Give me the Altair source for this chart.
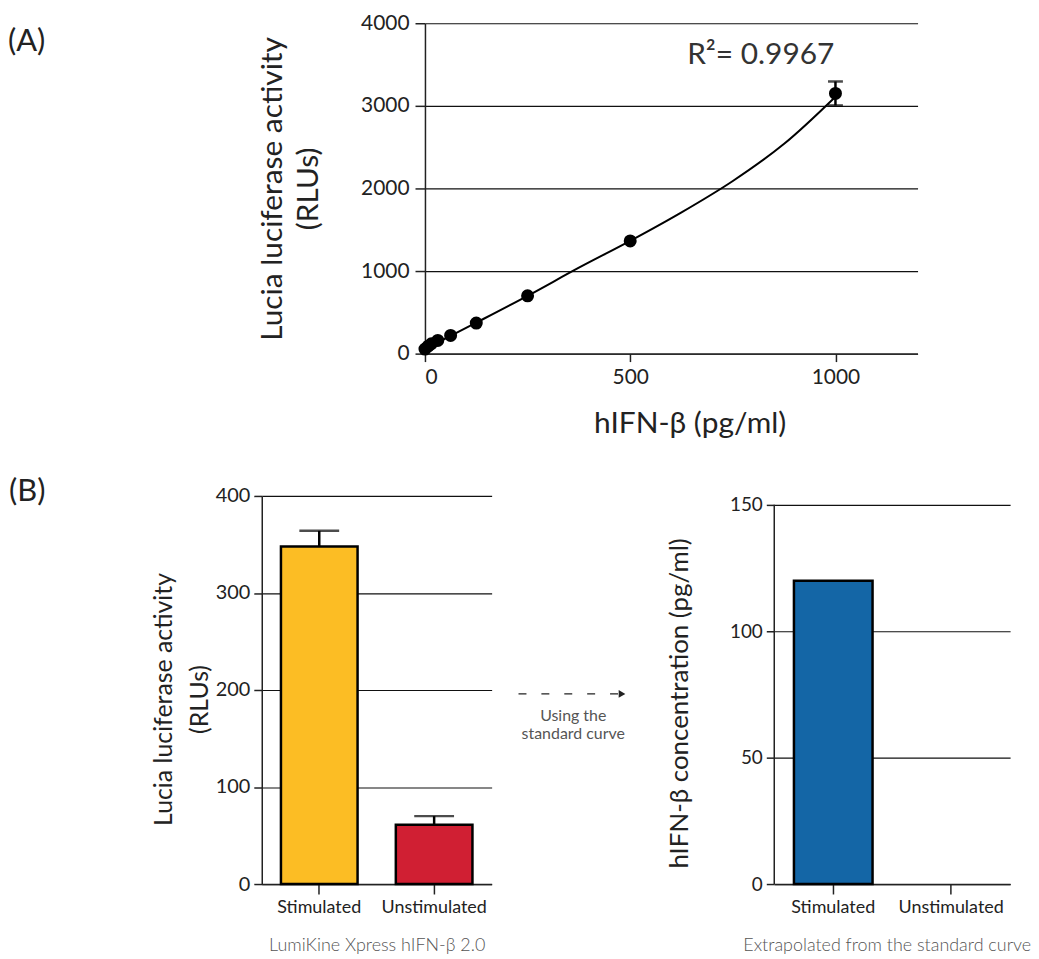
import altair as alt
import pandas as pd

# ---------------- data ----------------
# Panel A: standard curve (hIFN-beta pg/ml vs RLUs)
std_conc = [0, 7.8, 15.6, 31.25, 62.5, 125, 250, 500, 1000]
std_rlu = [55, 90, 120, 160, 220, 370, 700, 1365, 3150]
std_err = [0, 0, 0, 0, 0, 0, 0, 0, 145]

# fitted curve
fit_conc = [0, 125, 250, 375, 500, 625, 750, 875, 1000]
fit_rlu = [55, 375, 700, 1040, 1365, 1710, 2090, 2540, 3110]

r2_label = "R²= 0.9967"

# Panel B
conditions = ["Stimulated", "Unstimulated"]
rlu_means = [348, 61]
rlu_errs = [16, 9]
bar_colors = ["#FCBD24", "#D01F33"]
ifn_conc = [120, 0]
ifn_color = "#1466A6"

FONT = "Lato"
TXT = "#222222"

# ---------------- panel A ----------------
dfA = pd.DataFrame({
    "conc": std_conc,
    "rlu": std_rlu,
    "lo": [r - e for r, e in zip(std_rlu, std_err)],
    "hi": [r + e for r, e in zip(std_rlu, std_err)],
    "err": std_err,
})
dfFit = pd.DataFrame({"conc": fit_conc, "rlu": fit_rlu})
one = pd.DataFrame({"k": [0]})

xscA = alt.Scale(domain=[0, 1200], nice=False, zero=False)
yscA = alt.Scale(domain=[0, 4000], nice=False)
xaxA = alt.Axis(values=[0, 500, 1000], format="d", title="hIFN-β (pg/ml)", grid=False,
               labelFontSize=21, titleFontSize=30, titlePadding=21, labelPadding=5,
               tickSize=8, titleX=266)
yaxA = alt.Axis(values=[0, 1000, 2000, 3000, 4000], format="d",
               title=["Lucia luciferase activity", "(RLUs)"], grid=True,
               labelFontSize=21, titleFontSize=30, titlePadding=37, labelPadding=6,
               tickSize=10, titleLineHeight=36)

fit_line = alt.Chart(dfFit).mark_line(color="black", strokeWidth=2, interpolate="catmull-rom").encode(
    x=alt.X("conc:Q", scale=xscA, axis=xaxA),
    y=alt.Y("rlu:Q", scale=yscA, axis=yaxA),
)
pts = alt.Chart(dfA).mark_circle(size=170, color="black", opacity=1).encode(
    x=alt.X("conc:Q", scale=xscA, axis=xaxA),
    y=alt.Y("rlu:Q", scale=yscA, axis=yaxA),
)
errA = alt.Chart(dfA).transform_filter("datum.err > 0")
err_rule = errA.mark_rule(color="black", strokeWidth=2.5).encode(
    x=alt.X("conc:Q", scale=xscA, axis=xaxA),
    y=alt.Y("lo:Q", scale=yscA, axis=yaxA),
    y2="hi:Q",
)
cap_lo = errA.mark_tick(color="black", orient="horizontal", size=15, thickness=2.5).encode(
    x=alt.X("conc:Q", scale=xscA, axis=xaxA),
    y=alt.Y("lo:Q", scale=yscA, axis=yaxA),
)
cap_hi = errA.mark_tick(color="black", orient="horizontal", size=15, thickness=2.5).encode(
    x=alt.X("conc:Q", scale=xscA, axis=xaxA),
    y=alt.Y("hi:Q", scale=yscA, axis=yaxA),
)
r2 = alt.Chart(one).mark_text(font=FONT, fontSize=30, color="#333333", align="center",
                              baseline="middle").encode(
    x=alt.datum(818), y=alt.datum(3614), text=alt.value(r2_label)
)
labA = alt.Chart(one).mark_text(font=FONT, fontSize=31, color=TXT, align="left",
                                baseline="middle").encode(
    x=alt.value(-419), y=alt.value(19), text=alt.value("(A)")
)
panelA = alt.layer(fit_line, err_rule, cap_lo, cap_hi, pts, r2, labA).properties(width=495, height=332)

spacer = alt.Chart(one).mark_point(opacity=0).encode(
    x=alt.value(0), y=alt.value(0)
).properties(width=1, height=1)

# ---------------- panel B1 ----------------
dfB1 = pd.DataFrame({
    "cond": conditions,
    "rlu": rlu_means,
    "hi": [m + e for m, e in zip(rlu_means, rlu_errs)],
    "col": bar_colors,
})
xscB = alt.Scale(domain=conditions, paddingInner=0.333, paddingOuter=0.167)
xaxB1 = alt.Axis(title="LumiKine Xpress hIFN-β 2.0", labelAngle=0, labelFontSize=18,
                 titleFontSize=18, titleColor="#555555", titleFontWeight=300,
                 titlePadding=20, tickSize=10, grid=False, labelPadding=5)
yscB1 = alt.Scale(domain=[0, 400], nice=False)
yaxB1 = alt.Axis(values=[0, 100, 200, 300, 400], title=["Lucia luciferase activity", "(RLUs)"],
                 grid=True, labelFontSize=20, titleFontSize=25, titlePadding=3,
                 titleLineHeight=36, tickSize=8, labelPadding=4, titleY=204)

barsB1 = alt.Chart(dfB1).mark_bar(stroke="black", strokeWidth=2.5).encode(
    x=alt.X("cond:N", scale=xscB, axis=xaxB1, sort=conditions),
    y=alt.Y("rlu:Q", scale=yscB1, axis=yaxB1),
    color=alt.Color("col:N", scale=None),
)
errB1 = alt.Chart(dfB1).mark_rule(color="black", strokeWidth=2.5).encode(
    x=alt.X("cond:N", scale=xscB, axis=xaxB1, sort=conditions),
    y=alt.Y("rlu:Q", scale=yscB1, axis=yaxB1),
    y2="hi:Q",
)
capB1 = alt.Chart(dfB1).mark_tick(color="black", orient="horizontal", size=40, thickness=2.5).encode(
    x=alt.X("cond:N", scale=xscB, axis=xaxB1, sort=conditions),
    y=alt.Y("hi:Q", scale=yscB1, axis=yaxB1),
)
labB = alt.Chart(one).mark_text(font=FONT, fontSize=31, color=TXT, align="left",
                                baseline="middle").encode(
    x=alt.value(-254), y=alt.value(-4), text=alt.value("(B)")
)
panelB1 = alt.layer(barsB1, errB1, capB1, labB).properties(width=231, height=390)

# ---------------- panel B2 ----------------
dfB2 = pd.DataFrame({"cond": conditions, "conc": ifn_conc})
xaxB2 = alt.Axis(title="Extrapolated from the standard curve", labelAngle=0, labelFontSize=18,
                 titleFontSize=18, titleColor="#555555", titleFontWeight=300,
                 titlePadding=20, tickSize=10, grid=False, labelPadding=5, titleX=113)
yscB2 = alt.Scale(domain=[0, 153.5], nice=False)
yaxB2 = alt.Axis(values=[0, 50, 100, 150], title="hIFN-β concentration (pg/ml)", domain=False,
                 grid=True, labelFontSize=19, titleFontSize=26, titlePadding=37,
                 tickSize=8, labelPadding=4, titleY=208)

barsB2 = alt.Chart(dfB2).transform_filter("datum.conc > 0").mark_bar(
    stroke="black", strokeWidth=2.5, color=ifn_color
).encode(
    x=alt.X("cond:N", scale=xscB, axis=xaxB2, sort=conditions),
    y=alt.Y("conc:Q", scale=yscB2, axis=yaxB2),
)
yline = alt.Chart(one).mark_rule(color=TXT, strokeWidth=1.5).encode(
    x=alt.value(0), y=alt.datum(0), y2=alt.datum(150)
)
arrow_line = alt.Chart(one).mark_rule(color="#222222", strokeWidth=1.3, strokeDash=[8, 15]).encode(
    x=alt.value(-257), x2=alt.value(-150), y=alt.value(199)
)
arrow_head = alt.Chart(one).mark_point(shape="triangle-right", filled=True, size=60,
                                       color="#222222", opacity=1).encode(
    x=alt.value(-153), y=alt.value(199)
)
arrow_t1 = alt.Chart(one).mark_text(font=FONT, fontSize=16, color="#555555", align="center",
                                    baseline="middle").encode(
    x=alt.value(-202), y=alt.value(221), text=alt.value("Using the")
)
arrow_t2 = alt.Chart(one).mark_text(font=FONT, fontSize=16, color="#555555", align="center",
                                    baseline="middle").encode(
    x=alt.value(-202), y=alt.value(239), text=alt.value("standard curve")
)
panelB2 = alt.layer(barsB2, yline, arrow_line, arrow_head, arrow_t1, arrow_t2).properties(
    width=237, height=390)

row0 = alt.hconcat(spacer, panelA, spacing=-258)
row1 = alt.hconcat(panelB1, panelB2, spacing=26)

chart = alt.vconcat(row0, row1, spacing=38).properties(
    padding={"left": 0, "top": 2, "right": 0, "bottom": 0}
).configure(font=FONT).configure_view(stroke=None).configure_axis(
    domainColor=TXT, domainWidth=1.5, tickColor=TXT, tickWidth=1.5,
    gridColor="#111111", gridWidth=1.2, labelFont=FONT, labelColor=TXT,
    titleFont=FONT, titleColor=TXT, titleFontWeight="normal",
)

chart.save("out.html", embed_options={"renderer": "svg", "actions": False})
